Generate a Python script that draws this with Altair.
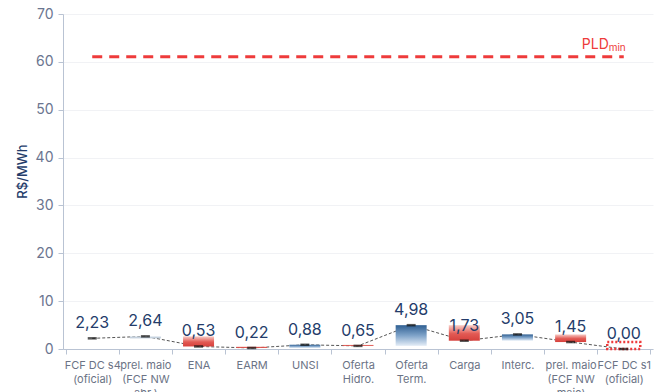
import altair as alt
import pandas as pd

categories = [
    "FCF DC s4|(oficial)", "prel. maio|(FCF NW|abr.)", "ENA", "EARM", "UNSI",
    "Oferta|Hidro.", "Oferta|Term.", "Carga", "Interc.",
    "prel. maio|(FCF NW|maio)", "FCF DC s1|(oficial)",
]
values = [2.23, 2.64, 0.53, 0.22, 0.88, 0.65, 4.98, 1.73, 3.05, 1.45, 0.00]
kinds = ["start", "neutral", "down", "down", "up", "down", "up", "down", "up", "down", "end"]
pld_min = 61.07

prev = [None] + values[:-1]
df = pd.DataFrame({"cat": categories, "value": values, "prev": prev, "kind": kinds})
df["order"] = range(len(df))

FONT = "Inter"
NAVY = "#243c6a"
RED = "#ee3b3b"

xscale = alt.Scale(domain=categories, paddingOuter=0.05, paddingInner=0)
xaxis = alt.Axis(labelExpr="datum.value ? split(datum.value, '|') : ''", labelAngle=0,
                 labelFont=FONT, labelFontSize=11, labelColor="#6b7385",
                 labelLineHeight=14, labelPadding=5, labelBaseline="top",
                 tickBand="extent", tickSize=5, tickColor="#b9c3d3",
                 domainColor="#b9c3d3", grid=False)
x = alt.X("cat:N", title=None, scale=xscale, axis=xaxis)
y = alt.Y("value:Q", title="R$/MWh",
          scale=alt.Scale(domain=[0, 70], nice=False),
          axis=alt.Axis(values=list(range(0, 71, 10)), labelFont=FONT, labelFontSize=14,
                        labelColor="#6b7590", labelPadding=5, tickSize=5,
                        tickColor="#b9c3d3", domainColor="#b9c3d3",
                        gridColor="#f1f2f5", titleFont=FONT, titleFontSize=13,
                        titleFontWeight=500, titleColor=NAVY, titleX=-41, titleY=157,
                        titleAngle=-90, titleBaseline="middle", titleAlign="center"))

def grad(stops):
    return alt.Gradient(gradient="linear", x1=0, x2=0, y1=0, y2=1,
                        stops=[alt.GradientStop(color=c, offset=o) for o, c in stops])

blue = grad([(0, "#2f5f92"), (0.5, "#7fa3c9"), (1, "#e4edf7")])
red = grad([(0, "#f8cdc7"), (0.55, "#e25a54"), (1, "#d6403c")])
grey = grad([(0, "#d6e0ea"), (1, "#b7c5d3")])

base = alt.Chart(df)

def bars(kind, color):
    return base.transform_filter(alt.datum.kind == kind).mark_bar(size=31, color=color).encode(
        x=x, y=alt.Y("prev:Q"), y2="value:Q")

up = bars("up", blue)
down = bars("down", red)
neutral = bars("neutral", grey)
end = base.transform_filter(alt.datum.kind == "end").mark_bar(
    size=33, fillOpacity=0, stroke=RED, strokeWidth=2.5, strokeDash=[2, 2]
).encode(x=x, y=alt.Y("prev:Q"), y2=alt.datum(0))

line = base.mark_line(color="#555555", strokeWidth=1, strokeDash=[3, 2]).encode(
    x=x, y=y, order="order:Q")
ticks = base.mark_tick(color="#111111", thickness=2.5, size=9).encode(x=x, y="value:Q")
labels = base.transform_calculate(
    lab="replace(format(datum.value, '.2f'), '.', ',')"
).mark_text(font=FONT, fontSize=16, color=NAVY, dy=-15).encode(
    x=x, y="value:Q", text="lab:N")

pld_df = pd.DataFrame({"cat": [categories[0]], "cat2": [categories[-1]], "v": [pld_min]})
pld = alt.Chart(pld_df).mark_rule(color=RED, strokeWidth=3, strokeDash=[10, 7]).encode(
    x=alt.X("cat:N", scale=xscale, axis=xaxis, title=None), x2="cat2:N", y="v:Q")
pld_t1 = alt.Chart(pld_df).mark_text(font=FONT, fontSize=14, color=RED, align="right",
                                     baseline="alphabetic", dx=-15, dy=-8).encode(
    x=alt.X("cat2:N", scale=xscale, axis=xaxis, title=None), y="v:Q", text=alt.value("PLD"))
pld_t2 = alt.Chart(pld_df).mark_text(font=FONT, fontSize=10, color=RED, align="right",
                                     baseline="alphabetic", dx=2, dy=-6).encode(
    x=alt.X("cat2:N", scale=xscale, axis=xaxis, title=None), y="v:Q", text=alt.value("min"))

chart = alt.layer(line, neutral, up, down, end, ticks, labels, pld, pld_t1, pld_t2).properties(
    width=590, height=335,
    autosize=alt.AutoSizeParams(type="none"),
    padding={"left": 63, "top": 14, "right": 6, "bottom": 43},
    background="white",
).configure_view(strokeWidth=0)

chart.save("out.html", embed_options={"renderer": "svg", "actions": False})
